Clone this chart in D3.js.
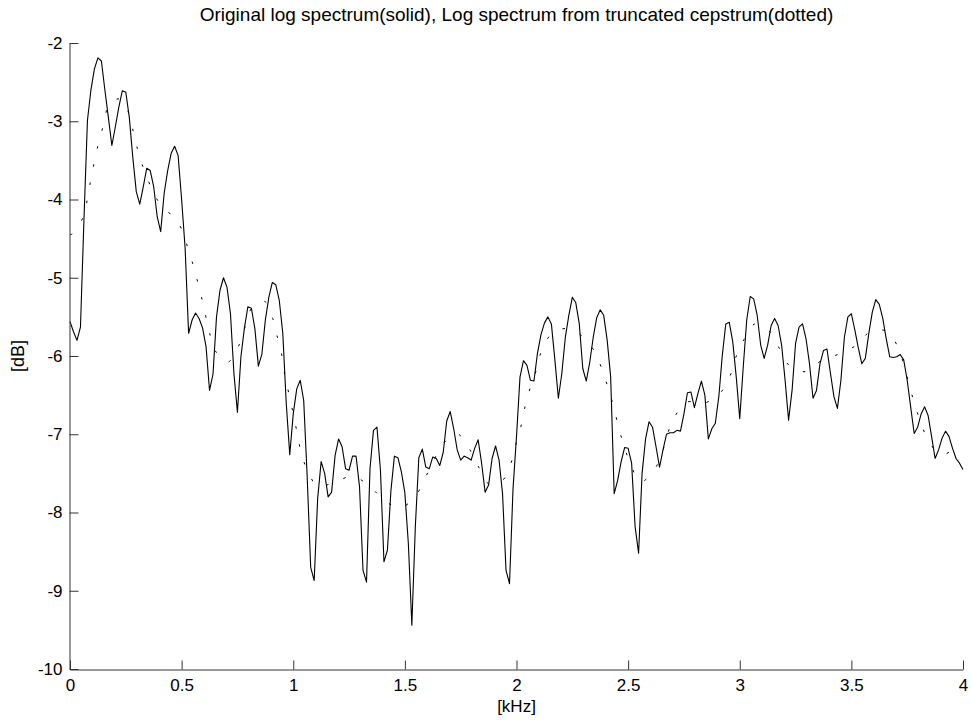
<!DOCTYPE html>
<html>
<head>
<meta charset="utf-8">
<script src="https://cdn.jsdelivr.net/npm/d3@7"></script>
<style>
  html, body { margin: 0; padding: 0; background: #fff; }
  svg { display: block; }
  text { font-family: "Liberation Sans", Arial, Helvetica, sans-serif; }
</style>
</head>
<body>
<svg id="chart" width="971" height="722"></svg>
<script>
// ---- data ----
const titleText = "Original log spectrum(solid), Log spectrum from truncated cepstrum(dotted)";
const xLabel = "[kHz]";
const yLabel = "[dB]";
const xTicks = [0, 0.5, 1, 1.5, 2, 2.5, 3, 3.5, 4];
const xTickLabels = ["0", "0.5", "1", "1.5", "2", "2.5", "3", "3.5", "4"];
const yTicks = [-10, -9, -8, -7, -6, -5, -4, -3, -2];
const yTickLabels = ["-10", "-9", "-8", "-7", "-6", "-5", "-4", "-3", "-2"];

const sampleRateKHz = 8;   // spectrum bins 0..fs/2
const fftSize = 512;

// original log spectrum (solid), one value per FFT bin 0..256
const solidDB = [
 -5.56,-5.69,-5.80,-5.63,-4.26,-2.99,-2.60,-2.33,-2.19,-2.23,
 -2.60,-2.95,-3.31,-3.07,-2.82,-2.61,-2.63,-2.95,-3.46,-3.90,
 -4.06,-3.84,-3.60,-3.63,-3.84,-4.22,-4.41,-3.92,-3.63,-3.41,
 -3.32,-3.44,-4.00,-4.62,-5.71,-5.54,-5.45,-5.52,-5.64,-5.88,
 -6.44,-6.23,-5.50,-5.16,-5.00,-5.12,-5.46,-6.23,-6.72,-6.01,
 -5.64,-5.37,-5.39,-5.65,-6.13,-5.98,-5.54,-5.25,-5.06,-5.09,
 -5.29,-5.71,-6.61,-7.26,-6.74,-6.42,-6.31,-6.57,-7.55,-8.70,
 -8.87,-7.82,-7.35,-7.50,-7.80,-7.74,-7.27,-7.06,-7.16,-7.44,
 -7.46,-7.28,-7.28,-7.67,-8.74,-8.89,-7.44,-6.95,-6.91,-7.46,
 -8.63,-8.48,-7.72,-7.28,-7.30,-7.48,-7.75,-8.40,-9.44,-8.18,
 -7.30,-7.19,-7.42,-7.44,-7.29,-7.31,-7.40,-7.23,-6.83,-6.71,
 -6.93,-7.20,-7.33,-7.28,-7.30,-7.33,-7.18,-7.07,-7.37,-7.74,
 -7.65,-7.31,-7.15,-7.33,-7.76,-8.74,-8.91,-7.70,-7.03,-6.27,
 -6.06,-6.12,-6.31,-6.32,-5.97,-5.73,-5.58,-5.50,-5.59,-6.05,
 -6.54,-6.22,-5.76,-5.48,-5.25,-5.32,-5.59,-6.16,-6.32,-6.08,
 -5.76,-5.51,-5.41,-5.48,-5.80,-6.27,-7.76,-7.59,-7.35,-7.17,
 -7.18,-7.37,-8.18,-8.52,-7.50,-7.06,-6.84,-6.91,-7.16,-7.42,
 -7.20,-7.00,-6.98,-6.98,-6.95,-6.96,-6.74,-6.47,-6.46,-6.66,
 -6.48,-6.32,-6.50,-7.06,-6.93,-6.86,-6.52,-5.99,-5.59,-5.57,
 -5.82,-6.27,-6.80,-6.14,-5.54,-5.24,-5.27,-5.48,-5.86,-6.03,
 -5.86,-5.61,-5.52,-5.61,-5.86,-6.31,-6.82,-6.44,-5.84,-5.63,
 -5.59,-5.78,-6.10,-6.54,-6.44,-6.10,-5.93,-5.91,-6.22,-6.52,
 -6.67,-6.31,-5.76,-5.50,-5.46,-5.67,-5.90,-6.10,-6.03,-5.71,
 -5.44,-5.28,-5.34,-5.52,-5.78,-6.01,-6.02,-6.01,-5.98,-6.05,
 -6.31,-6.65,-6.99,-6.91,-6.74,-6.65,-6.76,-7.03,-7.31,-7.20,
 -7.05,-6.96,-7.03,-7.18,-7.31,-7.37,-7.45
];

// log spectrum from truncated cepstrum (dotted), read at points along the curve
const dottedKHz = [
 0.000,0.010,0.060,0.078,0.094,0.112,0.131,0.154,0.176,0.231,
 0.288,0.309,0.369,0.414,0.478,0.540,0.564,0.585,0.605,0.624,
 0.650,0.706,0.754,0.784,0.811,0.870,0.908,0.929,0.950,0.963,
 0.982,1.018,1.035,1.065,1.112,1.192,1.269,1.344,1.406,1.478,
 1.545,1.587,1.627,1.669,1.732,1.787,1.829,1.874,1.934,1.975,
 1.996,2.019,2.038,2.060,2.090,2.113,2.160,2.232,2.307,2.355,
 2.386,2.414,2.437,2.459,2.482,2.513,2.556,2.613,2.650,2.677,
 2.710,2.762,2.844,2.913,2.956,2.982,3.019,3.068,3.132,3.177,
 3.221,3.295,3.370,3.449,3.528,3.588,3.663,3.710,3.736,3.761,
 3.785,3.812,3.845,3.901,3.979,4.000
];
const dottedDB = [
 -4.45,-4.44,-4.22,-3.99,-3.73,-3.48,-3.24,-3.01,-2.77,-2.72,
 -3.18,-3.43,-3.88,-4.10,-4.26,-4.73,-4.97,-5.20,-5.45,-5.69,
 -5.93,-6.08,-5.88,-5.63,-5.40,-5.30,-5.52,-5.76,-6.01,-6.26,
 -6.50,-6.99,-7.23,-7.47,-7.67,-7.60,-7.54,-7.67,-7.84,-7.94,
 -7.80,-7.58,-7.35,-7.13,-6.99,-7.18,-7.41,-7.63,-7.60,-7.37,
 -7.14,-6.91,-6.65,-6.42,-6.17,-5.93,-5.71,-5.65,-5.78,-5.97,
 -6.20,-6.44,-6.67,-6.93,-7.15,-7.40,-7.61,-7.47,-7.26,-6.99,
 -6.77,-6.59,-6.60,-6.47,-6.26,-6.02,-5.79,-5.59,-5.68,-5.90,
 -6.12,-6.20,-6.05,-5.97,-5.85,-5.68,-5.69,-5.90,-6.12,-6.39,
 -6.63,-6.86,-7.08,-7.26,-7.18,-7.22
];

// ---- chart ----
const svg = d3.select("#chart");
const x = d3.scaleLinear().domain([0, 4]).range([70, 963]);
const y = d3.scaleLinear().domain([-10, -2]).range([669, 43]);

const solid = solidDB.map((v, i) => [i * sampleRateKHz / fftSize, v]);
const dotted = dottedKHz.map((f, i) => [f, dottedDB[i]]);

const line = d3.line().x(d => x(d[0])).y(d => y(d[1]));

svg.append("path")
  .datum(solid)
  .attr("d", line)
  .attr("fill", "none")
  .attr("stroke", "#000")
  .attr("stroke-width", 1.1)
  .attr("stroke-linejoin", "round");

svg.append("path")
  .datum(dotted)
  .attr("d", line.curve(d3.curveCatmullRom))
  .attr("fill", "none")
  .attr("stroke", "#000")
  .attr("stroke-width", 1)
  .attr("stroke-dasharray", "2.5,16");

// axes
const xAxis = d3.axisBottom(x)
  .tickValues(xTicks)
  .tickFormat((d, i) => xTickLabels[i])
  .tickSizeInner(-9).tickSizeOuter(0).tickPadding(9);
const yAxis = d3.axisLeft(y)
  .tickValues(yTicks)
  .tickFormat((d, i) => yTickLabels[i])
  .tickSizeInner(-9).tickSizeOuter(0).tickPadding(7);

const gx = svg.append("g").attr("transform", "translate(0,669.5)").call(xAxis);
const gy = svg.append("g").attr("transform", "translate(69.5,0)").call(yAxis);

[gx, gy].forEach(g => {
  g.select(".domain").attr("stroke", "#333");
  g.selectAll(".tick line").attr("stroke", "#333");
  g.selectAll(".tick text")
    .attr("fill", "#000")
    .style("font-size", "17px")
    .style("font-family", '"Liberation Sans", Arial, sans-serif');
});

svg.append("text")
  .attr("x", 516.5).attr("y", 21)
  .attr("text-anchor", "middle")
  .style("font-size", "19px")
  .text(titleText);

svg.append("text")
  .attr("x", 516.5).attr("y", 712)
  .attr("text-anchor", "middle")
  .style("font-size", "17px")
  .text(xLabel);

svg.append("text")
  .attr("transform", "translate(24,356) rotate(-90)")
  .attr("text-anchor", "middle")
  .style("font-size", "18px")
  .text(yLabel);
</script>
</body>
</html>
